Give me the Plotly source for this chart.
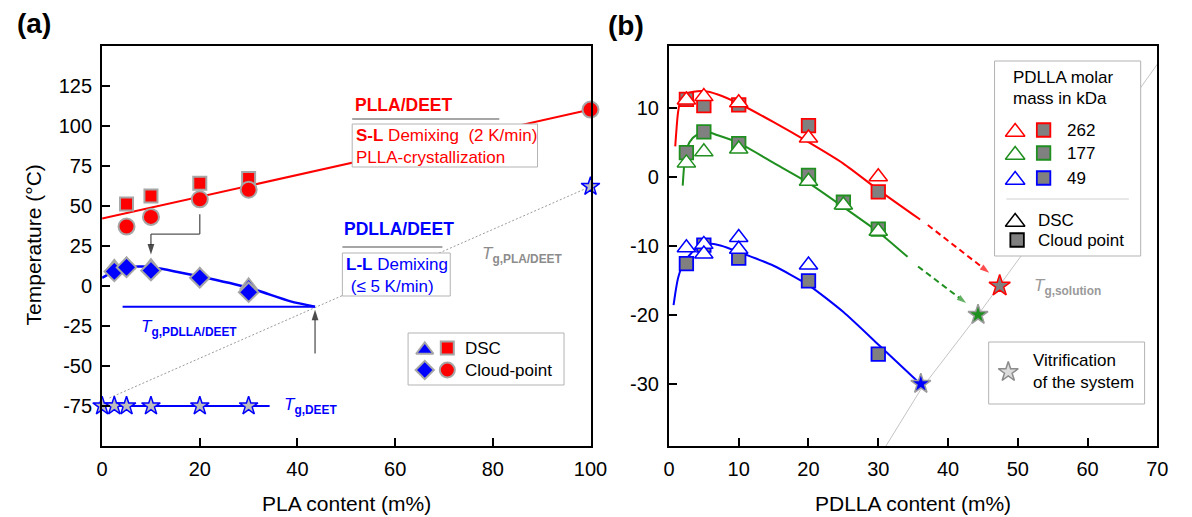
import plotly.graph_objects as go

W, H = 1192, 517
FONT = "Liberation Sans, Arial, sans-serif"
RED, GREEN, BLUE = "#ff0000", "#1f8f1f", "#0000ff"
GREY_FILL, GREY_EDGE = "#808080", "#a6a6a6"

# ---------------- Panel (a) data ----------------
plla_dsc_x = [5, 10, 20, 30]
plla_dsc_y = [51, 56, 64, 67]
plla_cp_x = [5, 10, 20, 30, 100]
plla_cp_y = [37, 43, 54, 60, 110]
plla_fit_x = [0, 100]
plla_fit_y = [42, 110]

pdlla_dsc_x = [2.5, 5, 10, 20, 30]
pdlla_dsc_y = [11.5, 13, 12, 6.5, 0]
pdlla_cp_x = [2.5, 5, 10, 20, 30]
pdlla_cp_y = [9, 11.5, 9.5, 5, -4]
pdlla_fit_x = [0, 2.5, 5, 7.5, 10, 20, 30, 38.6, 43.6]
pdlla_fit_y = [5, 9, 11.3, 12, 11.8, 5.8, -1.2, -9.7, -13]

tg_deet_x = [0, 2.5, 5, 10, 20, 30]
tg_deet_y = [-75, -75, -75, -75, -75, -75]
tg_deet_line_x = [0, 34.3]
tg_deet_line_y = [-75, -75]
tg_pdlla_line_x = [4.2, 43.6]
tg_pdlla_line_y = [-13, -13]
tg_pla_line_x = [1.5, 100]
tg_pla_line_y = [-70, 62]
tg_pla_x = [100]
tg_pla_y = [62]

a_xticks = [0, 20, 40, 60, 80, 100]
a_yticks = [-75, -50, -25, 0, 25, 50, 75, 100, 125]

# arrows in panel (a): bracket from the 20 % cloud point down to 10 %, and up-arrow at the Tg crossing
bracket_x = [20, 20, 10, 10]
bracket_y = [44.7, 32.3, 32.3, 19.5]
uparrow_x = [43.6, 43.6]
uparrow_y = [-42.2, -15.0]

# ---------------- Panel (b) data ----------------
r262_dsc_x = [2.5, 5, 10, 20, 30]
r262_dsc_y = [11.1, 11.6, 10.7, 5.6, 0.0]
r262_cp_x = [2.5, 5, 10, 20, 30]
r262_cp_y = [11.2, 10.3, 10.4, 7.4, -2.2]
r262_fit_x = [0.9, 1.3, 1.7, 2.5, 3.5, 5, 7, 10, 15, 20, 25, 30, 36]
r262_fit_y = [4.4, 9.3, 11.2, 12.0, 12.3, 12.4, 11.9, 10.6, 7.9, 5.0, 1.9, -1.9, -6.2]

g177_dsc_x = [2.5, 5, 10, 20, 25, 30]
g177_dsc_y = [2.0, 3.6, 4.0, -0.65, -4.1, -7.9]
g177_cp_x = [2.5, 5, 10, 20, 25, 30]
g177_cp_y = [3.5, 6.5, 4.8, 0.2, -3.7, -7.6]
g177_fit_x = [1.97, 2.2, 2.6, 3.4, 5, 7, 10, 15, 20, 25, 30, 34.2]
g177_fit_y = [-1.3, 1.8, 4.2, 5.6, 6.6, 6.0, 4.9, 2.0, -0.9, -4.4, -8.0, -11.6]

b49_dsc_x = [2.5, 5, 5, 10, 10, 20]
b49_dsc_y = [-10.3, -9.8, -11.2, -8.8, -10.5, -12.8]
b49_cp_x = [2.5, 5, 10, 20, 30]
b49_cp_y = [-12.6, -9.9, -11.8, -15.1, -25.7]
b49_fit_x = [0.66, 1.0, 1.3, 2.0, 3.0, 4.0, 5.5, 7.5, 10, 15, 20, 25, 30, 36]
b49_fit_y = [-18.6, -16.3, -14.7, -12.7, -11.3, -10.3, -9.7, -10.0, -10.9, -12.9, -15.7, -19.6, -24.3, -30]

red_dash_x = [37.1, 45.9]
red_dash_y = [-7.0, -13.9]
green_dash_x = [35.7, 42.6]
green_dash_y = [-13.0, -18.3]

vitr_x = [36.1, 44.3, 47.4]
vitr_y = [-30, -20, -15.8]
tg_sol_x = [31.1, 36.1, 44.3, 47.4, 50.6, 70]
tg_sol_y = [-39, -30.8, -20, -15.8, -11.3, 16.3]

b_xticks = [0, 10, 20, 30, 40, 50, 60, 70]
b_yticks = [-30, -20, -10, 0, 10]

mw_labels = ["262", "177", "49"]

fig = go.Figure()
A = dict(xaxis="x", yaxis="y")
B = dict(xaxis="x2", yaxis="y2")
P = dict(xaxis="x3", yaxis="y3")


def line(x, y, color, width, dash="solid", ax=A, shape="linear"):
    fig.add_trace(go.Scatter(x=x, y=y, mode="lines", hoverinfo="skip",
                             line=dict(color=color, width=width, dash=dash, shape=shape, smoothing=0.6),
                             **ax))


def mark(x, y, symbol, size, fill, edge, ew, ax=A):
    fig.add_trace(go.Scatter(x=x, y=y, mode="markers", cliponaxis=False, hoverinfo="skip",
                             marker=dict(symbol=symbol, size=size, color=fill,
                                         line=dict(color=edge, width=ew)), **ax))


def arrow(x, y, color, head_color, width, head, dash="solid", ax=A):
    sizes = [0] * (len(x) - 1) + [head]
    fig.add_trace(go.Scatter(x=x, y=y, mode="lines+markers", hoverinfo="skip", cliponaxis=False,
                             line=dict(color=color, width=width, dash=dash),
                             marker=dict(symbol="arrow", size=sizes, angleref="previous",
                                         color=head_color, line=dict(width=0)), **ax))


# ---- panel (a) traces ----
line(tg_pla_line_x, tg_pla_line_y, "#9a9a9a", 1, dash="2px,2px")
line(plla_fit_x, plla_fit_y, RED, 2)
line(pdlla_fit_x, pdlla_fit_y, BLUE, 2.5, shape="spline")
line(tg_pdlla_line_x, tg_pdlla_line_y, BLUE, 2)
line(tg_deet_line_x, tg_deet_line_y, BLUE, 2)
mark(plla_dsc_x, plla_dsc_y, "square", 13, RED, GREY_EDGE, 2)
mark(plla_cp_x, plla_cp_y, "circle", 16, RED, GREY_EDGE, 2)
mark(pdlla_dsc_x, pdlla_dsc_y, "triangle-up", 15, BLUE, GREY_EDGE, 2)
mark(pdlla_cp_x, pdlla_cp_y, "diamond", 15, BLUE, GREY_EDGE, 2)
mark(tg_deet_x, tg_deet_y, "star", 14, "#bdbdbd", BLUE, 1.5)
mark(tg_pla_x, tg_pla_y, "star", 14, "#bdbdbd", BLUE, 1.5)
arrow(bracket_x, bracket_y, "#555555", "black", 1.3, 11)
arrow(uparrow_x, uparrow_y, "#555555", "black", 1.3, 11)

# ---- panel (b) traces ----
line(tg_sol_x, tg_sol_y, "#c4c4c4", 1, ax=B)
for fx, fy, cx, cy, dx, dy, col in [
    (r262_fit_x, r262_fit_y, r262_cp_x, r262_cp_y, r262_dsc_x, r262_dsc_y, RED),
    (g177_fit_x, g177_fit_y, g177_cp_x, g177_cp_y, g177_dsc_x, g177_dsc_y, GREEN),
    (b49_fit_x, b49_fit_y, b49_cp_x, b49_cp_y, b49_dsc_x, b49_dsc_y, BLUE),
]:
    line(fx, fy, col, 2, ax=B, shape="spline")
    mark(cx, cy, "square", 13.5, GREY_FILL, col, 1.8, ax=B)
    mark(dx, dy, "triangle-up", 16, "white", col, 1.5, ax=B)
arrow(red_dash_x, red_dash_y, RED, RED, 2, 10, dash="6px,4px", ax=B)
arrow(green_dash_x, green_dash_y, GREEN, GREEN, 2, 10, dash="6px,4px", ax=B)
mark(vitr_x[:1], vitr_y[:1], "star", 15, BLUE, "#9a9a9a", 1.5, ax=B)
mark(vitr_x[1:2], vitr_y[1:2], "star", 15, GREEN, "#9a9a9a", 1.5, ax=B)
mark(vitr_x[2:], vitr_y[2:], "star", 16, GREY_FILL, RED, 1.5, ax=B)

# ---- legend boxes / glyphs (pixel overlay) ----
shapes = []
annotations = []


def box(x0, y0, x1, y1, color="#b3b3b3", width=1):
    shapes.append(dict(type="rect", xref="x3", yref="y3", x0=x0, y0=y0, x1=x1, y1=y1,
                       fillcolor="white", line=dict(color=color, width=width), layer="below"))


def hline(x0, x1, y, color="#a6a6a6", width=2):
    shapes.append(dict(type="line", xref="x3", yref="y3", x0=x0, x1=x1, y0=y, y1=y,
                       line=dict(color=color, width=width), layer="below"))


def text(x, y, s, size=17, color="black", xanchor="left", textangle=0):
    annotations.append(dict(xref="x3", yref="y3", x=x, y=y, text=s, showarrow=False,
                            xanchor=xanchor, yanchor="middle", textangle=textangle,
                            font=dict(family=FONT, size=size, color=color)))


# panel (a) legend
box(410, 333, 569, 385)
mark([427], [350], "triangle-up", 15, BLUE, GREY_EDGE, 2, ax=P)
mark([450], [348], "square", 13, RED, GREY_EDGE, 2, ax=P)
mark([427], [370], "diamond", 14, BLUE, GREY_EDGE, 2, ax=P)
mark([450], [370], "circle", 15, RED, GREY_EDGE, 2, ax=P)
text(466, 348, "DSC")
text(466, 370, "Cloud-point")

# panel (a) boxes
hline(353, 503, 119)
box(353, 124, 542, 167)
text(354, 105, "<b>PLLA/DEET</b>", size=17.5, color=RED)
text(355, 135, "<b>S-L</b> Demixing\u00a0 (2 K/min)", color=RED)
text(355, 157, "PLLA-crystallization", color=RED)
hline(343, 445, 247)
box(343, 253, 453, 296)
text(343, 229, "<b>PDLLA/DEET</b>", size=17.5, color=BLUE)
text(345, 264, "<b>L-L</b> Demixing", color=BLUE)
text(345, 286, "\u00a0(\u2264 5 K/min)", color=BLUE)
text(483, 255, "<i>T</i><sub><b>g,PLA/DEET</b></sub>", size=17, color="#8c8c8c")
text(136, 328, "<i>T</i><sub><b>g,PDLLA/DEET</b></sub>", size=17, color=BLUE)
text(281, 406, "<i>T</i><sub><b>g,DEET</b></sub>", size=17, color=BLUE)

# panel (b) legend
box(1008, 61, 1157, 256)
text(1025, 77, "PDLLA molar")
text(1025, 98, "mass in kDa")
for yy, col, lab in zip([130, 153, 178], [RED, GREEN, BLUE], mw_labels):
    mark([1029], [yy + 2], "triangle-up", 17, "white", col, 1.5, ax=P)
    mark([1058], [yy], "square", 13.5, GREY_FILL, col, 1.8, ax=P)
    text(1080, yy, lab)
hline(1020, 1145, 199, color="#d0d0d0", width=1)
mark([1029], [222], "triangle-up", 17, "white", "black", 1.5, ax=P)
text(1050, 220, "DSC")
mark([1031], [240], "square", 13.5, GREY_FILL, "black", 1.8, ax=P)
text(1050, 240, "Cloud point")
box(1002, 342, 1161, 404)
mark([1022], [372], "star", 15, "#dcdcdc", "#8c8c8c", 1.5, ax=P)
text(1045, 360, "Vitrification")
text(1045, 382, "of the system")
text(1046, 287, "<i>T</i><sub><b>g,solution</b></sub>", size=17, color="#9a9a9a")

# panel labels and axis titles
text(9, 23, "<b>(a)</b>", size=28)
text(612, 25, "<b>(b)</b>", size=28)
text(28, 245, "Temperature (\u00b0C)", size=21, xanchor="center", textangle=-90)
text(347, 503, "PLA content (m%)", size=21, xanchor="center")
text(925, 503, "PDLLA content (m%)", size=21, xanchor="center")

axis_common = dict(showline=True, linecolor="black", linewidth=2, mirror=True,
                   ticks="inside", ticklen=8, tickwidth=2, tickcolor="black",
                   showgrid=False, zeroline=False, fixedrange=True, ticklabelstandoff=4,
                   tickfont=dict(family=FONT, size=20, color="black"))
ydom = [1 - 446 / H, 1 - 45.5 / H]


def labels(vals):
    return [str(v) for v in vals]


fig.update_layout(
    width=W, height=H, margin=dict(l=0, r=0, t=0, b=0),
    paper_bgcolor="white", plot_bgcolor="rgba(0,0,0,0)", showlegend=False,
    font=dict(family=FONT, size=20, color="black"),
    xaxis=dict(domain=[98 / W, 596 / W], range=[0, 100], tickvals=a_xticks, ticktext=labels(a_xticks),
               anchor="y", **axis_common),
    yaxis=dict(domain=ydom, range=[-100, 150], tickvals=a_yticks, ticktext=labels(a_yticks),
               anchor="x", **axis_common),
    xaxis2=dict(domain=[676 / W, 1174 / W], range=[0, 70], tickvals=b_xticks, ticktext=labels(b_xticks),
                anchor="y2", **axis_common),
    yaxis2=dict(domain=ydom, range=[-39, 19], tickvals=b_yticks, ticktext=labels(b_yticks),
                anchor="x2", **axis_common),
    xaxis3=dict(domain=[0, 1], range=[0, W], visible=False, anchor="y3", fixedrange=True),
    yaxis3=dict(domain=[0, 1], range=[H, 0], visible=False, anchor="x3", fixedrange=True),
    shapes=shapes, annotations=annotations,
)

fig.write_html("out.html")
